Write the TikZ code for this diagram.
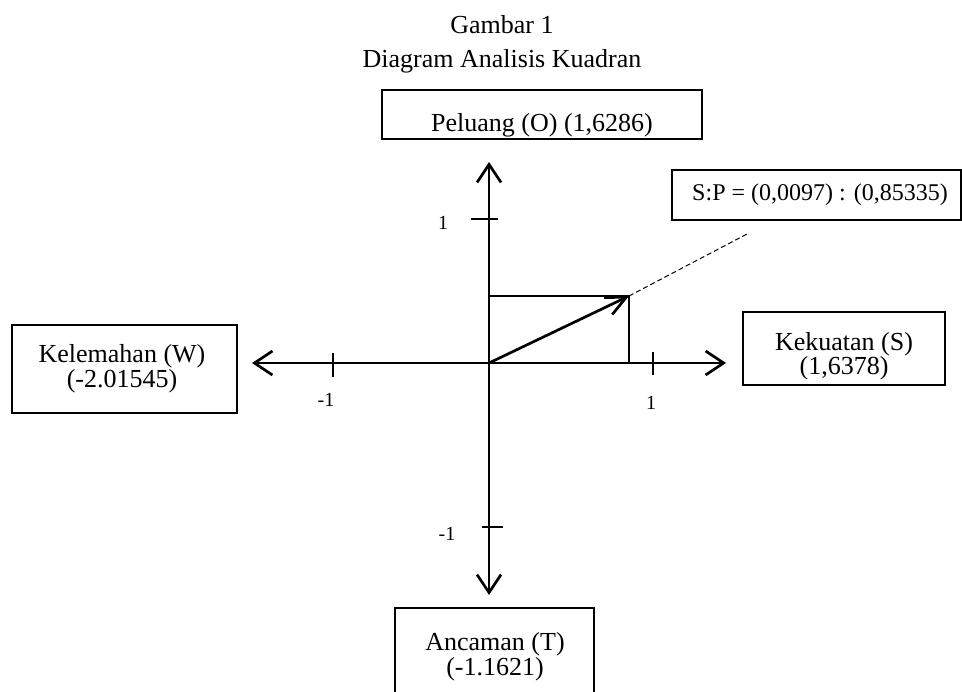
\documentclass[tikz,border=0pt]{standalone}
\usepackage{fontspec}
\setmainfont{Liberation Serif}
\usetikzlibrary{arrows.meta}
\tikzset{
  boxnode/.style={draw, line width=0.85pt, inner sep=0pt, rectangle},
  txt/.style={anchor=base, inner sep=0pt, font=\fontsize{13pt}{15pt}\selectfont},
  smalltxt/.style={anchor=base, inner sep=0pt, font=\fontsize{12pt}{14pt}\selectfont},
  ticklbl/.style={anchor=base, inner sep=0pt, font=\fontsize{10pt}{12pt}\selectfont},
  axisline/.style={line width=1.35pt, -{Straight Barb[length=9pt,width=12pt]}},
  tickline/.style={line width=1.1pt},
  vecline/.style={line width=1.35pt, -{Straight Barb[length=10pt,width=9.5pt]}},
  rectline/.style={line width=0.85pt},
  dashline/.style={line width=0.5pt, dash pattern=on 2.5pt off 1.5pt},
}
\begin{document}
\begin{tikzpicture}[x=0.5pt,y=-0.5pt]
\useasboundingbox (0,0) rectangle (962,691);
% title
\node[txt] (t1) at (502,33) {Gambar 1};
\node[txt] (t2) at (502,67) {Diagram Analisis Kuadran};
% coordinates
\coordinate (O) at (489,363);
\coordinate (Atop) at (489,162);
\coordinate (Abot) at (489,595);
\coordinate (Aleft) at (252,363);
\coordinate (Aright) at (726,363);
\coordinate (P) at (629,296);
\coordinate (Q) at (489,296);
\coordinate (R) at (629,363);
\coordinate (D) at (747,234);
% axes
\draw[axisline] (O) -- (Atop);
\draw[axisline] (O) -- (Abot);
\draw[axisline] (O) -- (Aleft);
\draw[axisline] (O) -- (Aright);
% ticks
\coordinate (ty1a) at (471,219); \coordinate (ty1b) at (498,219);
\coordinate (ty2a) at (482,527); \coordinate (ty2b) at (503,527);
\coordinate (tx1a) at (333,353); \coordinate (tx1b) at (333,377);
\coordinate (tx2a) at (653,352); \coordinate (tx2b) at (653,375);
\draw[tickline] (ty1a) -- (ty1b);
\draw[tickline] (ty2a) -- (ty2b);
\draw[tickline] (tx1a) -- (tx1b);
\draw[tickline] (tx2a) -- (tx2b);
\node[ticklbl] (ly1) at (443,229) {1};
\node[ticklbl] (ly2) at (447,540) {-1};
\node[ticklbl] (lx1) at (326,406) {-1};
\node[ticklbl] (lx2) at (651,409) {1};
% rectangle and vector
\draw[rectline] (Q) -- (P) -- (R);
\draw[vecline] (O) -- (P);
\draw[dashline] (P) -- (D);
% boxes
\node[boxnode, minimum width=160pt, minimum height=24.5pt] (bO) at (542,114.5) {};
\node[txt] (tO) at (542,131) {Peluang (O) (1,6286)};
\node[boxnode, minimum width=144.5pt, minimum height=25pt] (bSP) at (816.5,195) {};
\node[smalltxt] (tSP) at (820,200) {S:P = (0,0097) : (0,85335)};
\node[boxnode, minimum width=112.5pt, minimum height=44pt] (bW) at (124.5,369) {};
\node[txt] (tW1) at (122,362) {Kelemahan (W)};
\node[txt] (tW2) at (122,387) {(-2.01545)};
\node[boxnode, minimum width=101pt, minimum height=36.5pt] (bS) at (844,348.5) {};
\node[txt] (tS1) at (844,350) {Kekuatan (S)};
\node[txt] (tS2) at (844,374) {(1,6378)};
\node[boxnode, minimum width=99.5pt, minimum height=46pt] (bT) at (494.5,654) {};
\node[txt] (tT1) at (495,650) {Ancaman (T)};
\node[txt] (tT2) at (495,675) {(-1.1621)};
\end{tikzpicture}
\end{document}
